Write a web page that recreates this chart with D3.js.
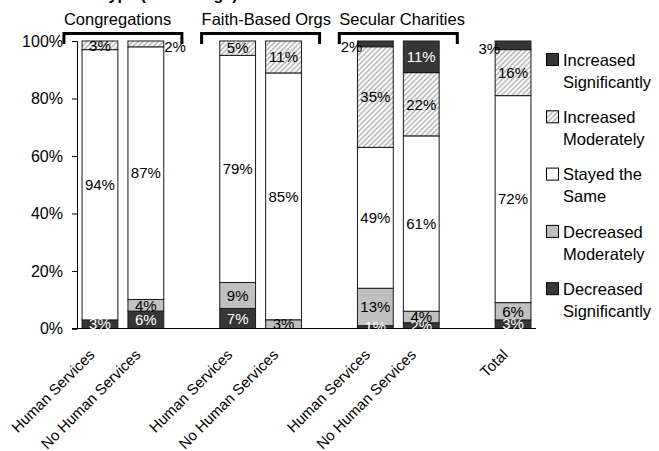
<!DOCTYPE html>
<html>
<head>
<meta charset="utf-8">
<script src="https://cdn.jsdelivr.net/npm/d3@7"></script>
<style>
  html, body { margin: 0; padding: 0; background: #fff; }
  svg { display: block; font-family: "Liberation Sans", Arial, sans-serif; }
</style>
</head>
<body>
<div id="chart"></div>
<script>
(function () {
  // Bars, left to right
  const barIds = ["cong-hs", "cong-nhs", "fbo-hs", "fbo-nhs", "sec-hs", "sec-nhs", "total"];
  const barLabels = ["Human Services", "No Human Services", "Human Services", "No Human Services",
    "Human Services", "No Human Services", "Total"];
  // slots on the x axis, gaps included
  const slotOrder = ["cong-hs", "cong-nhs", "gap1", "fbo-hs", "fbo-nhs", "gap2", "sec-hs", "sec-nhs", "gap3", "total"];

  const groupNames = ["Congregations", "Faith-Based Orgs", "Secular Charities"];
  const groupBars = [["cong-hs", "cong-nhs"], ["fbo-hs", "fbo-nhs"], ["sec-hs", "sec-nhs"]];

  // Series values (percent), bottom of the stack to top
  const decSig = [3, 6, 7, 0, 1, 2, 3];
  const decMod = [0, 4, 9, 3, 13, 4, 6];
  const same   = [94, 87, 79, 85, 49, 61, 72];
  const incMod = [3, 2, 5, 11, 35, 22, 16];
  const incSig = [0, 0, 0, 0, 2, 11, 3];

  const seriesKeys = ["decSig", "decMod", "same", "incMod", "incSig"];
  const seriesNames = {
    incSig: ["Increased", "Significantly"],
    incMod: ["Increased", "Moderately"],
    same: ["Stayed the", "Same"],
    decMod: ["Decreased", "Moderately"],
    decSig: ["Decreased", "Significantly"]
  };
  const legendOrder = ["incSig", "incMod", "same", "decMod", "decSig"];

  const yTicks = [0, 0.2, 0.4, 0.6, 0.8, 1];

  // labels that sit beside the bar instead of inside
  const outsideLabels = [
    { bar: "cong-nhs", key: "incMod", side: "right" },
    { bar: "sec-hs", key: "incSig", side: "left" },
    { bar: "total", key: "incSig", side: "left" }
  ];

  const DARK = "#363636";
  const fills = {
    decSig: DARK,
    decMod: "#c0c0c0",
    same: "#ffffff",
    incMod: "url(#hatch)",
    incSig: DARK
  };
  const labelColor = { decSig: "#fff", decMod: "#000", same: "#000", incMod: "#000", incSig: "#fff" };

  const width = 659, height = 451;

  const svg = d3.select("#chart").append("svg")
    .attr("width", width)
    .attr("height", height);

  svg.append("rect").attr("width", width).attr("height", height).attr("fill", "#fff");

  const defs = svg.append("defs");
  const pat = defs.append("pattern")
    .attr("id", "hatch")
    .attr("patternUnits", "userSpaceOnUse")
    .attr("width", 3.6)
    .attr("height", 3.6)
    .attr("patternTransform", "rotate(45)");
  pat.append("rect").attr("width", 3.6).attr("height", 3.6).attr("fill", "#fff");
  pat.append("rect").attr("width", 1.7).attr("height", 3.6).attr("fill", "#bdbdbd");

  const rows = barIds.map((id, i) => ({
    id,
    decSig: decSig[i], decMod: decMod[i], same: same[i], incMod: incMod[i], incSig: incSig[i]
  }));

  const stacked = d3.stack().keys(seriesKeys).offset(d3.stackOffsetExpand)(rows);

  const x = d3.scaleBand()
    .domain(slotOrder)
    .range([77, 536])
    .paddingInner(0.22)
    .paddingOuter(0.11);

  const y = d3.scaleLinear().domain([0, 1]).range([328.5, 41]);

  // title (mostly cut off at the top edge)
  svg.append("text")
    .attr("x", 100)
    .attr("y", -0.5)
    .style("font-size", "16px")
    .style("font-weight", "bold")
    .text("Type (Percentage)");

  // y axis
  const yAxisG = svg.append("g")
    .attr("transform", "translate(77,0)")
    .call(d3.axisLeft(y).tickValues(yTicks).tickFormat(d3.format(".0%")).tickSize(5).tickPadding(9));
  yAxisG.selectAll("text").style("font-size", "16px").attr("fill", "#000")
    .attr("font-family", "Liberation Sans, Arial, sans-serif");
  yAxisG.selectAll("line, path").attr("stroke", "#000");

  // bars
  const layer = svg.append("g").selectAll("g.series")
    .data(stacked)
    .join("g")
    .attr("class", "series");

  layer.selectAll("rect")
    .data(s => s.map(d => ({ key: s.key, d })))
    .join("rect")
    .attr("x", o => x(o.d.data.id))
    .attr("width", x.bandwidth())
    .attr("y", o => y(o.d[1]))
    .attr("height", o => y(o.d[0]) - y(o.d[1]))
    .attr("fill", o => fills[o.key])
    .attr("stroke", o => (o.d[1] - o.d[0] > 0 ? "#1a1a1a" : "none"))
    .attr("stroke-width", 1);

  // x axis
  const xAxisG = svg.append("g")
    .attr("transform", `translate(0,${y(0)})`)
    .call(d3.axisBottom(x).tickValues(barIds).tickSize(0).tickFormat(""));
  xAxisG.select(".domain").attr("stroke", "#000").attr("d", `M72,0H536`);

  // data labels
  const labelG = svg.append("g").style("font-size", "15px");
  stacked.forEach(s => {
    s.forEach((d, i) => {
      const v = rows[i][s.key];
      if (!v) return;
      const id = rows[i].id;
      const out = outsideLabels.find(o => o.bar === id && o.key === s.key);
      const cy = y((d[0] + d[1]) / 2);
      const t = labelG.append("text").attr("dy", "0.35em").text(v + "%");
      if (out) {
        t.attr("y", cy + 3)
          .attr("fill", "#000")
          .attr("text-anchor", out.side === "right" ? "start" : "end")
          .attr("x", out.side === "right" ? x(id) + x.bandwidth() + 0.5 : x(id) + 5);
      } else {
        t.attr("x", x(id) + x.bandwidth() / 2)
          .attr("y", cy)
          .attr("text-anchor", "middle")
          .attr("fill", labelColor[s.key]);
      }
    });
  });

  // category labels, rotated
  svg.append("g").selectAll("text")
    .data(barIds)
    .join("text")
    .attr("transform", d => `translate(${x(d) + x.bandwidth() / 2 - 8},${352}) rotate(-45)`)
    .attr("text-anchor", "end")
    .attr("dy", "0.35em")
    .style("font-size", "15px")
    .text((d, i) => barLabels[i]);

  // group brackets and names
  const bracketW = 118;
  const gg = svg.append("g");
  groupNames.forEach((name, i) => {
    const b = groupBars[i];
    const cx = (x(b[0]) + x(b[b.length - 1]) + x.bandwidth()) / 2;
    const x0 = cx - bracketW / 2, x1 = cx + bracketW / 2;
    gg.append("path")
      .attr("d", `M${x0},44V33.5H${x1}V44`)
      .attr("fill", "none")
      .attr("stroke", "#000")
      .attr("stroke-width", 3);
    gg.append("text")
      .attr("x", x0)
      .attr("y", 25)
      .style("font-size", "16.5px")
      .text(name);
  });

  // legend
  const legend = svg.append("g").attr("transform", "translate(546,60)");
  const items = legend.selectAll("g")
    .data(legendOrder)
    .join("g")
    .attr("transform", (d, i) => `translate(0,${i * 57.3})`);
  items.append("rect")
    .attr("x", 0.5)
    .attr("y", -6.5)
    .attr("width", 12)
    .attr("height", 12)
    .attr("fill", d => fills[d])
    .attr("stroke", "#000");
  items.append("text")
    .attr("x", 17)
    .attr("y", 0)
    .style("font-size", "16.5px")
    .selectAll("tspan")
    .data(d => seriesNames[d])
    .join("tspan")
    .attr("x", 17)
    .attr("dy", (d, i) => (i === 0 ? "0.35em" : "1.33em"))
    .text(d => d);
})();
</script>
</body>
</html>
